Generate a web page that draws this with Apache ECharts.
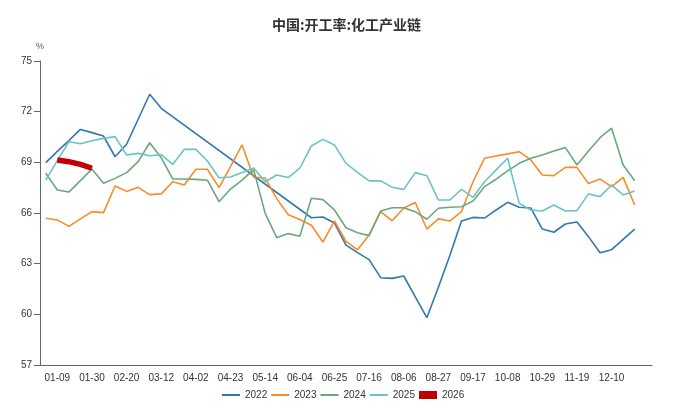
<!DOCTYPE html>
<html>
<head>
<meta charset="utf-8">
<script src="https://cdn.jsdelivr.net/npm/echarts@6/dist/echarts.min.js"></script>
<style>
  html, body { margin: 0; padding: 0; background: #fff; }
  #chart-container { width: 678px; height: 409px; }
</style>
</head>
<body>
<div id="chart-container"></div>
<script>
const weeks = [
  "01-02", "01-09", "01-16", "01-23", "01-30", "02-06", "02-13", "02-20", "02-27",
  "03-05", "03-12", "03-19", "03-26", "04-02", "04-09", "04-16", "04-23", "04-30",
  "05-07", "05-14", "05-21", "05-28", "06-04", "06-11", "06-18", "06-25", "07-02",
  "07-09", "07-16", "07-23", "07-30", "08-06", "08-13", "08-20", "08-27", "09-03",
  "09-10", "09-17", "09-24", "10-01", "10-08", "10-15", "10-22", "10-29", "11-05",
  "11-12", "11-19", "11-26", "12-03", "12-10", "12-17", "12-24", "12-31",
];

const yearNames = ["2022", "2023", "2024", "2025", "2026"];

// 2022 has a gap (weeks 11..22) that the original joins with a straight line
const s2022 = [
  68.98, 69.65, 70.29, 70.95, 70.76, 70.56, 69.33, 70.07, 71.55, 73.03, 72.2,
  null, null, null, null, null, null, null, null, null, null, null, null,
  65.72, 65.76, 65.41, 64.1, 63.65, 63.24, 62.17, 62.13, 62.27, 61.04, 59.8,
  61.6, 63.5, 65.53, 65.74, 65.7, 66.18, 66.63, 66.34, 66.3, 65.05, 64.86,
  65.35, 65.47, 64.6, 63.65, 63.83, 64.44, 65.05,
];

const s2023 = [
  65.69, 65.59, 65.21, 65.65, 66.08, 66.02, 67.6, 67.28, 67.52, 67.09, 67.13,
  67.85, 67.66, 68.59, 68.59, 67.5, 68.74, 70.03, 68.12, 68.07, 66.85,
  65.9, 65.62, 65.27, 64.28, 65.53, 64.32, 63.82, 64.7, 66.08, 65.54,
  66.3, 66.62, 65.05, 65.65, 65.53, 66.08, 67.85, 69.24, 69.38, 69.5,
  69.63, 69.14, 68.25, 68.21, 68.7, 68.7, 67.74, 68.01, 67.56, 68.11, 66.47,
];

const s2024 = [
  68.35, 67.36, 67.24, 67.92, 68.6, 67.76, 68.05, 68.39, 69.04, 70.16, 69.27,
  68.01, 68.01, 67.99, 67.94, 66.67, 67.42, 67.95, 68.57, 65.98, 64.54,
  64.78, 64.62, 66.87, 66.79, 66.18, 65.13, 64.83, 64.66, 66.12, 66.31,
  66.31, 66.08, 65.63, 66.28, 66.34, 66.37, 66.71, 67.56, 68.0, 68.49,
  68.94, 69.24, 69.43, 69.67, 69.87, 68.84, 69.67, 70.46, 71.02, 68.84, 67.91,
];

const s2025 = [
  67.95, 69.1, 70.22, 70.1, 70.28, 70.42, 70.52, 69.43, 69.53, 69.39, 69.45,
  68.88, 69.77, 69.77, 69.08, 68.09, 68.13, 68.4, 68.66, 67.85, 68.25,
  68.1, 68.65, 69.97, 70.36, 70.03, 68.94, 68.41, 67.9, 67.91, 67.52,
  67.4, 68.39, 68.21, 66.77, 66.77, 67.4, 66.93, 67.85, 68.55, 69.24,
  66.57, 66.18, 66.12, 66.47, 66.12, 66.14, 67.13, 66.97, 67.66, 67.07, 67.3,
];

const s2026 = [null, 69.14, 69.04, 68.88, 68.65];

const yTicks = { min: 57, max: 75, step: 3 };

const colors = ["#3178ad", "#f98b2b", "#6aa97d", "#6cc3c6", "#c00000"];
const seriesData = [s2022, s2023, s2024, s2025, s2026];

const dom = document.getElementById("chart-container");
const myChart = echarts.init(dom, null, { renderer: "canvas" });

const font = "'Liberation Sans', 'Noto Sans CJK SC', sans-serif";
// plain line icon for the legend (no circle marker)
const lineIcon = "path://M0,0L18,0L18,2L0,2Z";

const option = {
  animation: false,
  textStyle: { fontFamily: font },
  title: {
    text: "中国:开工率:化工产业链",
    left: 267,
    top: 13,
    textStyle: {
      fontSize: 14,
      fontWeight: "bold",
      color: "#333",
      fontFamily: "'Noto Sans CJK SC', sans-serif",
    },
  },
  legend: {
    left: 222,
    top: 390,
    padding: 0,
    itemWidth: 18,
    itemHeight: 8,
    itemGap: 4,
    textStyle: { fontSize: 10, color: "#333" },
    data: yearNames.map((n, i) =>
      i === 4 ? { name: n, icon: "rect" } : { name: n, icon: lineIcon }
    ),
  },
  grid: { left: 40, right: 26, top: 61, bottom: 44, containLabel: false },
  xAxis: {
    type: "category",
    data: weeks,
    boundaryGap: true,
    axisLine: { lineStyle: { color: "#666" } },
    axisTick: {
      alignWithLabel: true,
      length: 7,
      interval: (i) => i >= 1 && i <= 51,
      lineStyle: { color: "#666" },
    },
    axisLabel: {
      fontSize: 10,
      color: "#333",
      margin: 8,
      interval: (i) => i % 3 === 1 && i < 52,
    },
  },
  yAxis: {
    type: "value",
    name: "%",
    nameGap: 10,
    nameTextStyle: { fontSize: 9, color: "#555" },
    min: yTicks.min,
    max: yTicks.max,
    interval: yTicks.step,
    splitLine: { show: false },
    axisLine: { show: true, lineStyle: { color: "#666" } },
    axisTick: { show: true, length: 6, lineStyle: { color: "#666" } },
    axisLabel: { fontSize: 10, color: "#333", margin: 8 },
  },
  series: yearNames.map((n, i) => ({
    name: n,
    type: "line",
    data: seriesData[i],
    symbol: "none",
    connectNulls: true,
    color: colors[i],
    lineStyle: { width: i === 4 ? 5.5 : 1.6, color: colors[i] },
  })),
};

myChart.setOption(option);
window.addEventListener("resize", myChart.resize);
</script>
</body>
</html>
